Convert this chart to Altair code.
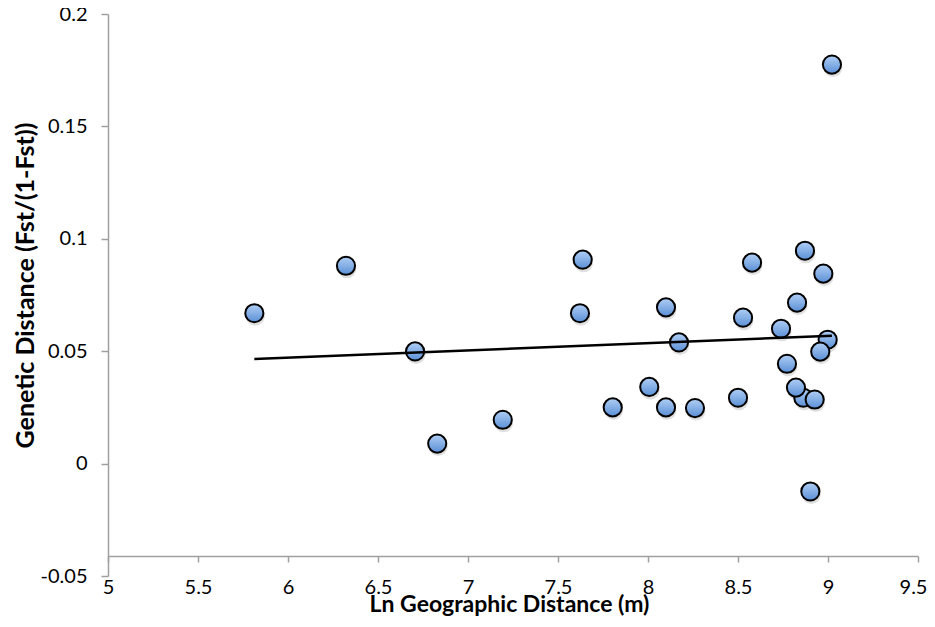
import altair as alt
import pandas as pd

# Data
ln_dist = [5.813, 6.322, 6.706, 6.829, 7.193, 7.622, 7.637, 7.804, 8.007, 8.100,
           8.100, 8.172, 8.261, 8.500, 8.528, 8.578, 8.739, 8.772, 8.828, 8.872,
           8.974, 8.998, 8.957, 8.863, 8.822, 8.926, 8.902, 9.022]
gen_dist = [0.0669, 0.0880, 0.0499, 0.0089, 0.0195, 0.0669, 0.0907, 0.0250, 0.0341, 0.0695,
            0.0250, 0.0539, 0.0247, 0.0293, 0.0649, 0.0894, 0.0600, 0.0444, 0.0716, 0.0947,
            0.0845, 0.0551, 0.0498, 0.0293, 0.0338, 0.0285, -0.0124, 0.1775]
trend_x = [5.813, 9.022]
trend_y = [0.0465, 0.0569]

x_ticks = [5, 5.5, 6, 6.5, 7, 7.5, 8, 8.5, 9, 9.5]
y_ticks = [-0.05, 0, 0.05, 0.1, 0.15, 0.2]

df = pd.DataFrame({"x": ln_dist, "y": gen_dist})
tf = pd.DataFrame({"x": trend_x, "y": trend_y})

FONT = "Lato"
AXC = "#a0a0a0"
LBL = 20
TTL = 23

xscale = alt.Scale(domain=[5, 9.5], nice=False, zero=False)
yscale = alt.Scale(domain=[-0.05, 0.2], nice=False, zero=False)

x_axis = alt.Axis(
    values=x_ticks, labelExpr="'' + datum.value", title="Ln Geographic Distance (m)",
    offset=-20, grid=False, domainColor=AXC, domainWidth=1.5, tickColor=AXC,
    tickWidth=1.5, tickSize=6, labelPadding=15, labelFlush=False, labelOverlap=False,
    labelOffset={"condition": {"test": "datum.value == 9.5", "value": -5}, "value": 0},
    labelFont=FONT, labelFontSize=LBL, labelColor="black",
    titleFont=FONT, titleFontSize=TTL, titleFontWeight="bold", titleColor="black",
    titleX=401, titleY=48, titleAlign="center", titleBaseline="middle",
)
y_axis = alt.Axis(
    values=y_ticks, labelExpr="'' + datum.value", title="Genetic Distance (Fst/(1-Fst))",
    grid=False, domainColor=AXC, domainWidth=1.5, tickColor=AXC, tickWidth=1.5,
    tickSize=7, labelPadding=14, labelFlush=False, labelOverlap=False,
    labelFont=FONT, labelFontSize=LBL, labelColor="black",
    titleFont=FONT, titleFontSize=25, titleFontWeight="bold", titleColor="black",
    titleX=-83, titleY=271, titleAlign="center", titleBaseline="middle", titleAngle=-90,
)

grad = alt.Gradient(
    gradient="linear", x1=0, y1=0, x2=0, y2=1,
    stops=[alt.GradientStop(color="#b0cff5", offset=0),
           alt.GradientStop(color="#5a8fd6", offset=1)],
)

base = alt.Chart(df).encode(
    x=alt.X("x:Q", scale=xscale, axis=x_axis),
    y=alt.Y("y:Q", scale=yscale, axis=y_axis),
)

shadow = base.mark_point(
    shape="circle", filled=True, color="#000000", opacity=0.12, size=360,
    yOffset=3, xOffset=1,
)
points = base.mark_point(
    shape="circle", filled=True, fill=grad, stroke="black", strokeWidth=2,
    size=330, opacity=1,
)
trend = alt.Chart(tf).mark_line(color="black", strokeWidth=2.5).encode(
    x=alt.X("x:Q", scale=xscale),
    y=alt.Y("y:Q", scale=yscale),
)

chart = alt.layer(shadow, points, trend).properties(
    width=810, height=562,
    autosize=alt.AutoSizeParams(type="none"),
    padding={"left": 100, "top": 6, "right": 9, "bottom": 40},
).configure_view(stroke=None)

chart.save("out.html", embed_options={"renderer": "svg", "actions": False})
